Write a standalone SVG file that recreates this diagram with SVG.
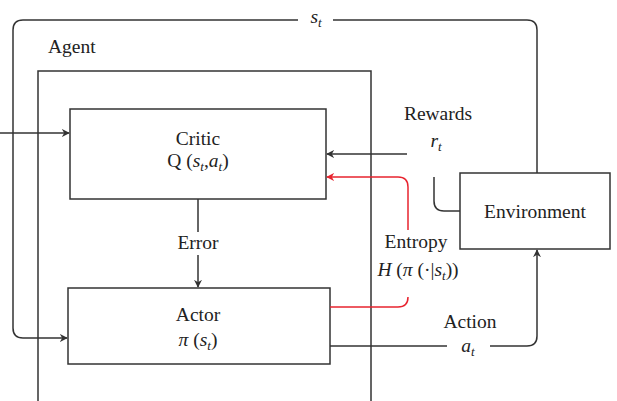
<svg xmlns="http://www.w3.org/2000/svg" width="617" height="401" viewBox="0 0 617 401">
<style>
.box{fill:#fff;stroke:#333;stroke-width:1.5}
.ln{fill:none;stroke:#333;stroke-width:1.5}
.red{fill:none;stroke:#e8242f;stroke-width:1.5}
text{font-family:"Liberation Serif","DejaVu Serif",serif;font-size:19.5px;fill:#222}
.c{text-anchor:middle}
.i{font-style:italic}
.sub{font-style:italic;font-size:13px}
</style>
<defs>
<marker id="ah" viewBox="0 0 10 10" refX="9" refY="5" markerWidth="8" markerHeight="8" markerUnits="userSpaceOnUse" orient="auto"><path d="M0,0 L10,5 L0,10 L3,5 Z" fill="#333"/></marker>
<marker id="ahr" viewBox="0 0 10 10" refX="9" refY="5" markerWidth="8" markerHeight="8" markerUnits="userSpaceOnUse" orient="auto"><path d="M0,0 L10,5 L0,10 L3,5 Z" fill="#e8242f"/></marker>
</defs>
<rect width="617" height="401" fill="#fff"/>
<g id="agent">
<rect class="box" x="38" y="71" width="333" height="340"/>
<text x="48" y="53">Agent</text>
</g>
<g id="critic">
<rect class="box" x="70" y="109" width="256" height="90"/>
<text class="c" x="198" y="145">Critic</text>
<text class="c" x="198" y="167">Q (<tspan class="i">s</tspan><tspan class="sub" dy="4">t</tspan><tspan dy="-4">,</tspan><tspan class="i">a</tspan><tspan class="sub" dy="4">t</tspan><tspan dy="-4">)</tspan></text>
</g>
<g id="actor">
<rect class="box" x="68" y="288" width="262" height="76"/>
<text class="c" x="198" y="321">Actor</text>
<text class="c" x="198" y="346"><tspan class="i">π</tspan> (<tspan class="i">s</tspan><tspan class="sub" dy="4">t</tspan><tspan dy="-4">)</tspan></text>
</g>
<g id="environment">
<rect class="box" x="460" y="173" width="150" height="76"/>
<text class="c" x="535" y="218">Environment</text>
</g>
<g id="connectors">
<path class="ln" d="M298,20 H23 Q13,20 13,30 V328 Q13,338 23,338 H67" marker-end="url(#ah)"/>
<path class="ln" d="M333,20 H527 Q537,20 537,30 V173"/>
<text class="c" x="316" y="23"><tspan class="i">s</tspan><tspan class="sub" dy="4">t</tspan></text>
<path class="ln" d="M0,133 H69" marker-end="url(#ah)"/>
<path class="ln" d="M407,154 H327" marker-end="url(#ah)"/>
<text class="c" x="438" y="120">Rewards</text>
<text class="c" x="436" y="147"><tspan class="i">r</tspan><tspan class="sub" dy="4">t</tspan></text>
<path class="ln" d="M434,177 V201 Q434,211 444,211 H460"/>
<path class="red" d="M408,230 V187 Q408,177 398,177 H327" marker-end="url(#ahr)"/>
<path class="red" d="M330,307 H398 Q408,307 408,297"/>
<text class="c" x="416" y="248">Entropy</text>
<text class="c" x="418" y="276"><tspan class="i">H</tspan> (<tspan class="i">π</tspan> (·|<tspan class="i">s</tspan><tspan class="sub" dy="4">t</tspan><tspan dy="-4">))</tspan></text>
<path class="ln" d="M198,199 V232"/>
<text class="c" x="198" y="249">Error</text>
<path class="ln" d="M198,255 V287" marker-end="url(#ah)"/>
<path class="ln" d="M330,346 H447"/>
<path class="ln" d="M490,346 H527 Q537,346 537,336 V250" marker-end="url(#ah)"/>
<text class="c" x="470" y="328">Action</text>
<text class="c" x="468" y="352"><tspan class="i">a</tspan><tspan class="sub" dy="4">t</tspan></text>
</g>
</svg>
